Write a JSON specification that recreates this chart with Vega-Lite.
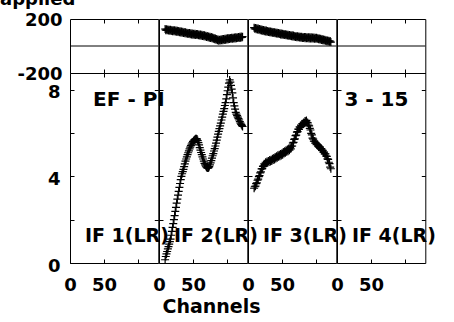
{
"$schema": "https://vega.github.io/schema/vega-lite/v6.json",
"padding": {"left": 0, "top": -10, "right": 2, "bottom": 20},
"background": "white",
"bounds": "flush",
"spacing": 0,
"columns": 4,
"align": "each",
"title": {"text": "applied", "anchor": "start", "frame": "group", "dx": -70, "fontSize": 18, "font": "DejaVu Sans", "fontWeight": "bold", "color": "black", "offset": 2},
"config": {
  "font": "DejaVu Sans",
  "axis": {"labelFont": "DejaVu Sans", "labelFontWeight": "bold", "labelFontSize": 18, "labelColor": "black", "tickColor": "black", "tickWidth": 1, "titleFont": "DejaVu Sans", "titleFontWeight": "bold", "titleFontSize": 19, "titleColor": "black", "grid": false, "domain": false, "labelBound": false},
  "view": {"stroke": "black", "strokeWidth": 1},
  "concat": {"spacing": 0}
},
"datasets": {
"pts": [
{"IF":2,"ch":9,"amp":0.15,"ph":126},{"IF":2,"ch":10,"amp":0.30,"ph":117},{"IF":2,"ch":11,"amp":0.42,"ph":124},{"IF":2,"ch":12,"amp":0.53,"ph":116},{"IF":2,"ch":13,"amp":0.65,"ph":123},{"IF":2,"ch":14,"amp":0.76,"ph":115},{"IF":2,"ch":15,"amp":0.87,"ph":121},{"IF":2,"ch":16,"amp":0.99,"ph":113},{"IF":2,"ch":17,"amp":1.10,"ph":120},{"IF":2,"ch":18,"amp":1.28,"ph":112},
{"IF":2,"ch":19,"amp":1.46,"ph":119},{"IF":2,"ch":20,"amp":1.64,"ph":110},{"IF":2,"ch":21,"amp":1.82,"ph":117},{"IF":2,"ch":22,"amp":2.00,"ph":109},{"IF":2,"ch":23,"amp":2.19,"ph":116},{"IF":2,"ch":24,"amp":2.38,"ph":108},{"IF":2,"ch":25,"amp":2.57,"ph":115},{"IF":2,"ch":26,"amp":2.76,"ph":106},{"IF":2,"ch":27,"amp":2.95,"ph":113},{"IF":2,"ch":28,"amp":3.13,"ph":104},
{"IF":2,"ch":29,"amp":3.31,"ph":111},{"IF":2,"ch":30,"amp":3.49,"ph":102},{"IF":2,"ch":31,"amp":3.67,"ph":109},{"IF":2,"ch":32,"amp":3.85,"ph":100},{"IF":2,"ch":33,"amp":4.00,"ph":107},{"IF":2,"ch":34,"amp":4.12,"ph":98},{"IF":2,"ch":35,"amp":4.22,"ph":105},{"IF":2,"ch":36,"amp":4.32,"ph":96},{"IF":2,"ch":37,"amp":4.45,"ph":103},{"IF":2,"ch":38,"amp":4.58,"ph":94},
{"IF":2,"ch":39,"amp":4.70,"ph":101},{"IF":2,"ch":40,"amp":4.80,"ph":92},{"IF":2,"ch":41,"amp":4.90,"ph":99},{"IF":2,"ch":42,"amp":5.00,"ph":90},{"IF":2,"ch":43,"amp":5.09,"ph":97},{"IF":2,"ch":44,"amp":5.18,"ph":89},{"IF":2,"ch":45,"amp":5.27,"ph":96},{"IF":2,"ch":46,"amp":5.35,"ph":87},{"IF":2,"ch":47,"amp":5.42,"ph":94},{"IF":2,"ch":48,"amp":5.49,"ph":86},
{"IF":2,"ch":49,"amp":5.55,"ph":93},{"IF":2,"ch":50,"amp":5.60,"ph":84},{"IF":2,"ch":51,"amp":5.64,"ph":91},{"IF":2,"ch":52,"amp":5.68,"ph":83},{"IF":2,"ch":53,"amp":5.71,"ph":90},{"IF":2,"ch":54,"amp":5.73,"ph":82},{"IF":2,"ch":55,"amp":5.74,"ph":89},{"IF":2,"ch":56,"amp":5.72,"ph":81},{"IF":2,"ch":57,"amp":5.65,"ph":88},{"IF":2,"ch":58,"amp":5.56,"ph":79},
{"IF":2,"ch":59,"amp":5.45,"ph":86},{"IF":2,"ch":60,"amp":5.33,"ph":78},{"IF":2,"ch":61,"amp":5.21,"ph":85},{"IF":2,"ch":62,"amp":5.10,"ph":76},{"IF":2,"ch":63,"amp":5.00,"ph":83},{"IF":2,"ch":64,"amp":4.90,"ph":75},{"IF":2,"ch":65,"amp":4.80,"ph":81},{"IF":2,"ch":66,"amp":4.70,"ph":72},{"IF":2,"ch":67,"amp":4.60,"ph":79},{"IF":2,"ch":68,"amp":4.53,"ph":70},
{"IF":2,"ch":69,"amp":4.47,"ph":76},{"IF":2,"ch":70,"amp":4.42,"ph":67},{"IF":2,"ch":71,"amp":4.39,"ph":74},{"IF":2,"ch":72,"amp":4.38,"ph":65},{"IF":2,"ch":73,"amp":4.40,"ph":71},{"IF":2,"ch":74,"amp":4.45,"ph":62},{"IF":2,"ch":75,"amp":4.53,"ph":69},{"IF":2,"ch":76,"amp":4.62,"ph":60},{"IF":2,"ch":77,"amp":4.73,"ph":66},{"IF":2,"ch":78,"amp":4.84,"ph":57},
{"IF":2,"ch":79,"amp":4.95,"ph":63},{"IF":2,"ch":80,"amp":5.05,"ph":54},{"IF":2,"ch":81,"amp":5.17,"ph":60},{"IF":2,"ch":82,"amp":5.28,"ph":50},{"IF":2,"ch":83,"amp":5.40,"ph":56},{"IF":2,"ch":84,"amp":5.53,"ph":46},{"IF":2,"ch":85,"amp":5.67,"ph":52},{"IF":2,"ch":86,"amp":5.81,"ph":42},{"IF":2,"ch":87,"amp":5.95,"ph":48},{"IF":2,"ch":88,"amp":6.08,"ph":38},
{"IF":2,"ch":89,"amp":6.20,"ph":47},{"IF":2,"ch":90,"amp":6.33,"ph":40},{"IF":2,"ch":91,"amp":6.46,"ph":49},{"IF":2,"ch":92,"amp":6.60,"ph":42},{"IF":2,"ch":93,"amp":6.73,"ph":51},{"IF":2,"ch":94,"amp":6.87,"ph":43},{"IF":2,"ch":95,"amp":7.00,"ph":52},{"IF":2,"ch":96,"amp":7.13,"ph":45},{"IF":2,"ch":97,"amp":7.27,"ph":54},{"IF":2,"ch":98,"amp":7.40,"ph":47},
{"IF":2,"ch":99,"amp":7.58,"ph":56},{"IF":2,"ch":100,"amp":7.77,"ph":48},{"IF":2,"ch":101,"amp":7.95,"ph":57},{"IF":2,"ch":102,"amp":8.12,"ph":50},{"IF":2,"ch":103,"amp":8.30,"ph":59},{"IF":2,"ch":104,"amp":8.45,"ph":51},{"IF":2,"ch":105,"amp":8.35,"ph":60},{"IF":2,"ch":106,"amp":8.20,"ph":53},{"IF":2,"ch":107,"amp":8.03,"ph":61},{"IF":2,"ch":108,"amp":7.85,"ph":54},
{"IF":2,"ch":109,"amp":7.62,"ph":62},{"IF":2,"ch":110,"amp":7.40,"ph":55},{"IF":2,"ch":111,"amp":7.25,"ph":63},{"IF":2,"ch":112,"amp":7.10,"ph":56},{"IF":2,"ch":113,"amp":6.95,"ph":64},{"IF":2,"ch":114,"amp":6.87,"ph":57},{"IF":2,"ch":115,"amp":6.80,"ph":65},{"IF":2,"ch":116,"amp":6.73,"ph":59},{"IF":2,"ch":117,"amp":6.66,"ph":67},{"IF":2,"ch":118,"amp":6.60,"ph":60},
{"IF":2,"ch":119,"amp":6.53,"ph":68},{"IF":2,"ch":120,"amp":6.46,"ph":62},{"IF":2,"ch":121,"amp":6.40,"ph":70},{"IF":2,"ch":122,"amp":6.35,"ph":63},{"IF":2,"ch":123,"amp":6.30,"ph":69},
{"IF":3,"ch":9,"amp":3.45,"ph":136},{"IF":3,"ch":10,"amp":3.52,"ph":127},{"IF":3,"ch":11,"amp":3.55,"ph":134},{"IF":3,"ch":12,"amp":3.66,"ph":125},{"IF":3,"ch":13,"amp":3.70,"ph":131},{"IF":3,"ch":14,"amp":3.82,"ph":122},{"IF":3,"ch":15,"amp":3.87,"ph":129},{"IF":3,"ch":16,"amp":3.99,"ph":120},{"IF":3,"ch":17,"amp":4.03,"ph":126},{"IF":3,"ch":18,"amp":4.16,"ph":117},
{"IF":3,"ch":19,"amp":4.21,"ph":124},{"IF":3,"ch":20,"amp":4.34,"ph":115},{"IF":3,"ch":21,"amp":4.36,"ph":121},{"IF":3,"ch":22,"amp":4.46,"ph":112},{"IF":3,"ch":23,"amp":4.48,"ph":119},{"IF":3,"ch":24,"amp":4.58,"ph":110},{"IF":3,"ch":25,"amp":4.55,"ph":116},{"IF":3,"ch":26,"amp":4.65,"ph":108},{"IF":3,"ch":27,"amp":4.60,"ph":114},{"IF":3,"ch":28,"amp":4.69,"ph":106},
{"IF":3,"ch":29,"amp":4.63,"ph":112},{"IF":3,"ch":30,"amp":4.71,"ph":104},{"IF":3,"ch":31,"amp":4.66,"ph":110},{"IF":3,"ch":32,"amp":4.75,"ph":102},{"IF":3,"ch":33,"amp":4.69,"ph":108},{"IF":3,"ch":34,"amp":4.77,"ph":100},{"IF":3,"ch":35,"amp":4.71,"ph":106},{"IF":3,"ch":36,"amp":4.81,"ph":98},{"IF":3,"ch":37,"amp":4.75,"ph":104},{"IF":3,"ch":38,"amp":4.85,"ph":96},
{"IF":3,"ch":39,"amp":4.78,"ph":102},{"IF":3,"ch":40,"amp":4.89,"ph":94},{"IF":3,"ch":41,"amp":4.82,"ph":100},{"IF":3,"ch":42,"amp":4.93,"ph":92},{"IF":3,"ch":43,"amp":4.86,"ph":98},{"IF":3,"ch":44,"amp":4.97,"ph":90},{"IF":3,"ch":45,"amp":4.90,"ph":96},{"IF":3,"ch":46,"amp":5.00,"ph":88},{"IF":3,"ch":47,"amp":4.93,"ph":94},{"IF":3,"ch":48,"amp":5.03,"ph":86},
{"IF":3,"ch":49,"amp":4.96,"ph":92},{"IF":3,"ch":50,"amp":5.07,"ph":84},{"IF":3,"ch":51,"amp":5.00,"ph":91},{"IF":3,"ch":52,"amp":5.12,"ph":83},{"IF":3,"ch":53,"amp":5.05,"ph":89},{"IF":3,"ch":54,"amp":5.16,"ph":81},{"IF":3,"ch":55,"amp":5.09,"ph":87},{"IF":3,"ch":56,"amp":5.20,"ph":79},{"IF":3,"ch":57,"amp":5.13,"ph":85},{"IF":3,"ch":58,"amp":5.24,"ph":77},
{"IF":3,"ch":59,"amp":5.16,"ph":84},{"IF":3,"ch":60,"amp":5.28,"ph":76},{"IF":3,"ch":61,"amp":5.21,"ph":82},{"IF":3,"ch":62,"amp":5.33,"ph":74},{"IF":3,"ch":63,"amp":5.27,"ph":80},{"IF":3,"ch":64,"amp":5.39,"ph":72},{"IF":3,"ch":65,"amp":5.40,"ph":79},{"IF":3,"ch":66,"amp":5.54,"ph":70},{"IF":3,"ch":67,"amp":5.57,"ph":77},{"IF":3,"ch":68,"amp":5.71,"ph":68},
{"IF":3,"ch":69,"amp":5.73,"ph":75},{"IF":3,"ch":70,"amp":5.88,"ph":67},{"IF":3,"ch":71,"amp":5.90,"ph":73},{"IF":3,"ch":72,"amp":6.04,"ph":65},{"IF":3,"ch":73,"amp":6.06,"ph":72},{"IF":3,"ch":74,"amp":6.18,"ph":64},{"IF":3,"ch":75,"amp":6.17,"ph":70},{"IF":3,"ch":76,"amp":6.28,"ph":63},{"IF":3,"ch":77,"amp":6.26,"ph":69},{"IF":3,"ch":78,"amp":6.36,"ph":61},
{"IF":3,"ch":79,"amp":6.33,"ph":68},{"IF":3,"ch":80,"amp":6.43,"ph":60},{"IF":3,"ch":81,"amp":6.40,"ph":67},{"IF":3,"ch":82,"amp":6.49,"ph":59},{"IF":3,"ch":83,"amp":6.46,"ph":66},{"IF":3,"ch":84,"amp":6.56,"ph":58},{"IF":3,"ch":85,"amp":6.53,"ph":66},{"IF":3,"ch":86,"amp":6.58,"ph":58},{"IF":3,"ch":87,"amp":6.49,"ph":65},{"IF":3,"ch":88,"amp":6.47,"ph":57},
{"IF":3,"ch":89,"amp":6.36,"ph":65},{"IF":3,"ch":90,"amp":6.33,"ph":56},{"IF":3,"ch":91,"amp":6.21,"ph":64},{"IF":3,"ch":92,"amp":6.14,"ph":56},{"IF":3,"ch":93,"amp":5.98,"ph":64},{"IF":3,"ch":94,"amp":5.91,"ph":55},{"IF":3,"ch":95,"amp":5.76,"ph":63},{"IF":3,"ch":96,"amp":5.72,"ph":55},{"IF":3,"ch":97,"amp":5.63,"ph":63},{"IF":3,"ch":98,"amp":5.62,"ph":54},
{"IF":3,"ch":99,"amp":5.53,"ph":62},{"IF":3,"ch":100,"amp":5.54,"ph":54},{"IF":3,"ch":101,"amp":5.46,"ph":61},{"IF":3,"ch":102,"amp":5.47,"ph":53},{"IF":3,"ch":103,"amp":5.40,"ph":58},{"IF":3,"ch":104,"amp":5.41,"ph":50},{"IF":3,"ch":105,"amp":5.34,"ph":56},{"IF":3,"ch":106,"amp":5.35,"ph":48},{"IF":3,"ch":107,"amp":5.28,"ph":53},{"IF":3,"ch":108,"amp":5.28,"ph":45},
{"IF":3,"ch":109,"amp":5.20,"ph":51},{"IF":3,"ch":110,"amp":5.20,"ph":43},{"IF":3,"ch":111,"amp":5.12,"ph":48},{"IF":3,"ch":112,"amp":5.12,"ph":40},{"IF":3,"ch":113,"amp":5.04,"ph":46},{"IF":3,"ch":114,"amp":5.04,"ph":38},{"IF":3,"ch":115,"amp":4.94,"ph":43},{"IF":3,"ch":116,"amp":4.92,"ph":35},{"IF":3,"ch":117,"amp":4.81,"ph":41},{"IF":3,"ch":118,"amp":4.78,"ph":33},
{"IF":3,"ch":119,"amp":4.65,"ph":39},{"IF":3,"ch":120,"amp":4.59,"ph":31},{"IF":3,"ch":121,"amp":4.43,"ph":37},{"IF":3,"ch":122,"amp":4.35,"ph":29}
]
},
"concat": [
 {"width": 88.3, "height": 54, "resolve": {"axis": {"x": "independent", "y": "independent"}}, "layer": [
  {"data": {"values": [{"ph": 0}]}, "mark": {"type": "rule", "color": "black", "strokeWidth": 1},
   "encoding": {"x": {"datum": 0, "type": "quantitative", "scale": {"domain": [0, 130], "nice": false}, "axis": {"orient": "bottom", "values": [50, 100], "labels": false, "tickSize": -4, "title": null}}, "x2": {"datum": 130},
    "y": {"field": "ph", "type": "quantitative", "scale": {"domain": [-200, 200], "nice": false}, "axis": {"orient": "left", "values": [-200, 200], "labelExpr": "replace(datum.label, '\u2212', '-')", "ticks": false, "labelPadding": 8, "labelOffset": 1, "labelFlush": false, "title": null}}}},
  {"data": {"name": "pts"}, "transform": [{"filter": "datum.IF == 1"}], "mark": {"type": "point", "shape": "M-1,0H1M0,-1V1", "size": 64, "filled": false, "stroke": "black", "strokeWidth": 1.2, "opacity": 1},
   "encoding": {"x": {"field": "ch", "type": "quantitative", "axis": {"orient": "top", "values": [50, 100], "labels": false, "tickSize": -4, "title": null}}, "y": {"field": "ph", "type": "quantitative", "axis": null}}}
 ]},
 {"width": 88.3, "height": 54, "resolve": {"axis": {"x": "independent", "y": "independent"}}, "layer": [
  {"data": {"values": [{"ph": 0}]}, "mark": {"type": "rule", "color": "black", "strokeWidth": 1},
   "encoding": {"x": {"datum": 0, "type": "quantitative", "scale": {"domain": [0, 130], "nice": false}, "axis": {"orient": "bottom", "values": [50, 100], "labels": false, "tickSize": -4, "title": null}}, "x2": {"datum": 130},
    "y": {"field": "ph", "type": "quantitative", "scale": {"domain": [-200, 200], "nice": false}, "axis": null}}},
  {"data": {"name": "pts"}, "transform": [{"filter": "datum.IF == 2"}], "mark": {"type": "point", "shape": "M-1,0H1M0,-1V1", "size": 64, "filled": false, "stroke": "black", "strokeWidth": 1.2, "opacity": 1},
   "encoding": {"x": {"field": "ch", "type": "quantitative", "axis": {"orient": "top", "values": [50, 100], "labels": false, "tickSize": -4, "title": null}}, "y": {"field": "ph", "type": "quantitative", "axis": null}}}
 ]},
 {"width": 88.3, "height": 54, "resolve": {"axis": {"x": "independent", "y": "independent"}}, "layer": [
  {"data": {"values": [{"ph": 0}]}, "mark": {"type": "rule", "color": "black", "strokeWidth": 1},
   "encoding": {"x": {"datum": 0, "type": "quantitative", "scale": {"domain": [0, 130], "nice": false}, "axis": {"orient": "bottom", "values": [50, 100], "labels": false, "tickSize": -4, "title": null}}, "x2": {"datum": 130},
    "y": {"field": "ph", "type": "quantitative", "scale": {"domain": [-200, 200], "nice": false}, "axis": null}}},
  {"data": {"name": "pts"}, "transform": [{"filter": "datum.IF == 3"}], "mark": {"type": "point", "shape": "M-1,0H1M0,-1V1", "size": 64, "filled": false, "stroke": "black", "strokeWidth": 1.2, "opacity": 1},
   "encoding": {"x": {"field": "ch", "type": "quantitative", "axis": {"orient": "top", "values": [50, 100], "labels": false, "tickSize": -4, "title": null}}, "y": {"field": "ph", "type": "quantitative", "axis": null}}}
 ]},
 {"width": 88.3, "height": 54, "resolve": {"axis": {"x": "independent", "y": "independent"}}, "layer": [
  {"data": {"values": [{"ph": 0}]}, "mark": {"type": "rule", "color": "black", "strokeWidth": 1},
   "encoding": {"x": {"datum": 0, "type": "quantitative", "scale": {"domain": [0, 130], "nice": false}, "axis": {"orient": "bottom", "values": [50, 100], "labels": false, "tickSize": -4, "title": null}}, "x2": {"datum": 130},
    "y": {"field": "ph", "type": "quantitative", "scale": {"domain": [-200, 200], "nice": false}, "axis": null}}},
  {"data": {"name": "pts"}, "transform": [{"filter": "datum.IF == 4"}], "mark": {"type": "point", "shape": "M-1,0H1M0,-1V1", "size": 64, "filled": false, "stroke": "black", "strokeWidth": 1.2, "opacity": 1},
   "encoding": {"x": {"field": "ch", "type": "quantitative", "axis": {"orient": "top", "values": [50, 100], "labels": false, "tickSize": -4, "title": null}}, "y": {"field": "ph", "type": "quantitative", "axis": null}}}
 ]},
 {"width": 88.3, "height": 190, "resolve": {"axis": {"x": "independent", "y": "independent"}}, "layer": [
  {"data": {"name": "pts"}, "transform": [{"filter": "datum.IF == 1"}], "mark": {"type": "point", "shape": "M-1,0H1M0,-1V1", "size": 64, "filled": false, "stroke": "black", "strokeWidth": 1.2, "opacity": 1},
   "encoding": {"x": {"field": "ch", "type": "quantitative", "scale": {"domain": [0, 130], "nice": false}, "axis": {"orient": "bottom", "values": [0, 50, 100], "labelExpr": "datum.value <= 50 ? datum.label : ''", "tickSize": -4, "labelPadding": 17, "labelFlush": false, "title": null}},
    "y": {"field": "amp", "type": "quantitative", "scale": {"domain": [0, 8.77], "nice": false}, "axis": {"orient": "left", "values": [0, 2, 4, 6, 8], "labelExpr": "datum.value % 4 == 0 ? datum.label : ''", "tickSize": -4, "labelPadding": 14, "labelOffset": 3, "labelFlush": false, "title": null}}}},
  {"data": {"values": [{"t": "IF 1(LR)"}]}, "mark": {"type": "text", "align": "left", "baseline": "alphabetic", "font": "DejaVu Sans", "fontWeight": "bold", "fontSize": 19, "color": "black"},
   "encoding": {"x": {"datum": 22, "type": "quantitative", "axis": {"orient": "top", "values": [50, 100], "labels": false, "tickSize": -4, "title": null}}, "y": {"datum": 0.95, "type": "quantitative", "axis": {"orient": "right", "values": [2, 4, 6, 8], "labels": false, "tickSize": -4, "title": null}}, "text": {"field": "t"}}},
  {"data": {"values": [{"t": "EF - PI"}]}, "mark": {"type": "text", "align": "left", "baseline": "alphabetic", "font": "DejaVu Sans", "fontWeight": "bold", "fontSize": 20, "color": "black"},
   "encoding": {"x": {"datum": 34, "type": "quantitative", "axis": null}, "y": {"datum": 7.25, "type": "quantitative", "axis": null}, "text": {"field": "t"}}}
 ]},
 {"width": 88.3, "height": 190, "resolve": {"axis": {"x": "independent", "y": "independent"}}, "layer": [
  {"data": {"name": "pts"}, "transform": [{"filter": "datum.IF == 2"}], "mark": {"type": "point", "shape": "M-1,0H1M0,-1V1", "size": 64, "filled": false, "stroke": "black", "strokeWidth": 1.2, "opacity": 1},
   "encoding": {"x": {"field": "ch", "type": "quantitative", "scale": {"domain": [0, 130], "nice": false}, "axis": {"orient": "bottom", "values": [0, 50, 100], "labelExpr": "datum.value <= 50 ? datum.label : ''", "tickSize": -4, "labelPadding": 17, "labelFlush": false, "title": "Channels", "titleAnchor": "start", "titleX": 52, "titleAlign": "center", "titlePadding": 3}},
    "y": {"field": "amp", "type": "quantitative", "scale": {"domain": [0, 8.77], "nice": false}, "axis": {"orient": "left", "values": [2, 4, 6, 8], "labels": false, "tickSize": -4, "title": null}}}},
  {"data": {"values": [{"t": "IF 2(LR)"}]}, "mark": {"type": "text", "align": "left", "baseline": "alphabetic", "font": "DejaVu Sans", "fontWeight": "bold", "fontSize": 19, "color": "black"},
   "encoding": {"x": {"datum": 22, "type": "quantitative", "axis": {"orient": "top", "values": [50, 100], "labels": false, "tickSize": -4, "title": null}}, "y": {"datum": 0.95, "type": "quantitative", "axis": {"orient": "right", "values": [2, 4, 6, 8], "labels": false, "tickSize": -4, "title": null}}, "text": {"field": "t"}}}
 ]},
 {"width": 88.3, "height": 190, "resolve": {"axis": {"x": "independent", "y": "independent"}}, "layer": [
  {"data": {"name": "pts"}, "transform": [{"filter": "datum.IF == 3"}], "mark": {"type": "point", "shape": "M-1,0H1M0,-1V1", "size": 64, "filled": false, "stroke": "black", "strokeWidth": 1.2, "opacity": 1},
   "encoding": {"x": {"field": "ch", "type": "quantitative", "scale": {"domain": [0, 130], "nice": false}, "axis": {"orient": "bottom", "values": [0, 50, 100], "labelExpr": "datum.value <= 50 ? datum.label : ''", "tickSize": -4, "labelPadding": 17, "labelFlush": false, "title": null}},
    "y": {"field": "amp", "type": "quantitative", "scale": {"domain": [0, 8.77], "nice": false}, "axis": {"orient": "left", "values": [2, 4, 6, 8], "labels": false, "tickSize": -4, "title": null}}}},
  {"data": {"values": [{"t": "IF 3(LR)"}]}, "mark": {"type": "text", "align": "left", "baseline": "alphabetic", "font": "DejaVu Sans", "fontWeight": "bold", "fontSize": 19, "color": "black"},
   "encoding": {"x": {"datum": 22, "type": "quantitative", "axis": {"orient": "top", "values": [50, 100], "labels": false, "tickSize": -4, "title": null}}, "y": {"datum": 0.95, "type": "quantitative", "axis": {"orient": "right", "values": [2, 4, 6, 8], "labels": false, "tickSize": -4, "title": null}}, "text": {"field": "t"}}}
 ]},
 {"width": 88.3, "height": 190, "resolve": {"axis": {"x": "independent", "y": "independent"}}, "layer": [
  {"data": {"name": "pts"}, "transform": [{"filter": "datum.IF == 4"}], "mark": {"type": "point", "shape": "M-1,0H1M0,-1V1", "size": 64, "filled": false, "stroke": "black", "strokeWidth": 1.2, "opacity": 1},
   "encoding": {"x": {"field": "ch", "type": "quantitative", "scale": {"domain": [0, 130], "nice": false}, "axis": {"orient": "bottom", "values": [0, 50, 100], "labelExpr": "datum.value <= 50 ? datum.label : ''", "tickSize": -4, "labelPadding": 17, "labelFlush": false, "title": null}},
    "y": {"field": "amp", "type": "quantitative", "scale": {"domain": [0, 8.77], "nice": false}, "axis": {"orient": "left", "values": [2, 4, 6, 8], "labels": false, "tickSize": -4, "title": null}}}},
  {"data": {"values": [{"t": "IF 4(LR)"}]}, "mark": {"type": "text", "align": "left", "baseline": "alphabetic", "font": "DejaVu Sans", "fontWeight": "bold", "fontSize": 19, "color": "black"},
   "encoding": {"x": {"datum": 22, "type": "quantitative", "axis": {"orient": "top", "values": [50, 100], "labels": false, "tickSize": -4, "title": null}}, "y": {"datum": 0.95, "type": "quantitative", "axis": {"orient": "right", "values": [2, 4, 6, 8], "labels": false, "tickSize": -4, "title": null}}, "text": {"field": "t"}}},
  {"data": {"values": [{"t": "3 - 15"}]}, "mark": {"type": "text", "align": "left", "baseline": "alphabetic", "font": "DejaVu Sans", "fontWeight": "bold", "fontSize": 20, "color": "black"},
   "encoding": {"x": {"datum": 11, "type": "quantitative", "axis": null}, "y": {"datum": 7.25, "type": "quantitative", "axis": null}, "text": {"field": "t"}}}
 ]}
]
}
